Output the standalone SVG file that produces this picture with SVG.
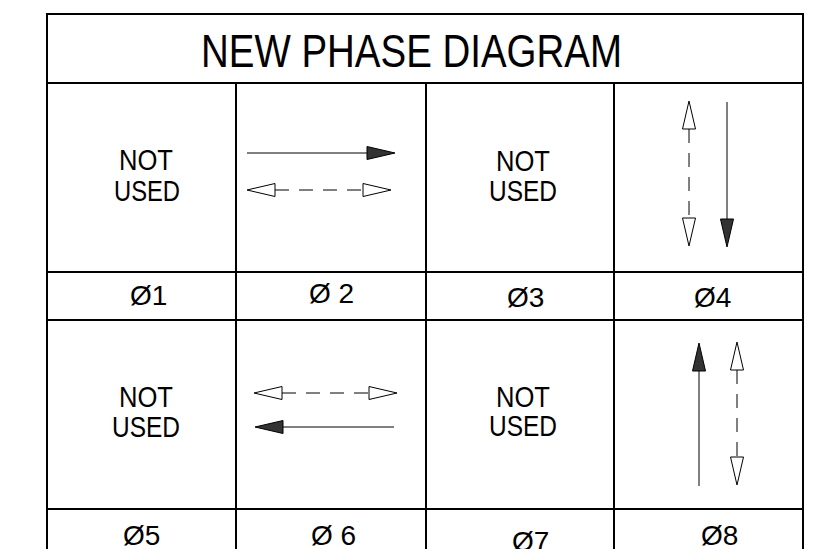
<svg xmlns="http://www.w3.org/2000/svg" width="829" height="549" viewBox="0 0 829 549">
<style>
.grid{stroke:#000;stroke-width:2;fill:none}
.t{font-family:"Liberation Sans",Arial,sans-serif;fill:#000}
.title{font-size:47px}
.nu{font-size:30px;text-anchor:middle}
.ph{font-size:28px}
.sol{stroke:#000;stroke-width:1;fill:none;marker-end:url(#hf)}
.dsh{stroke:#000;stroke-width:1;fill:none;stroke-dasharray:14 10;marker-start:url(#ho);marker-end:url(#ho)}
</style>
<defs>
<marker id="hf" markerUnits="userSpaceOnUse" viewBox="-1 -8 31 16" markerWidth="31" markerHeight="16" refX="0" refY="0" orient="auto-start-reverse" overflow="visible">
<path d="M0,-6.5 L28,0 L0,6.5 Z" fill="#333" stroke="#000" stroke-width="1"/>
</marker>
<marker id="ho" markerUnits="userSpaceOnUse" viewBox="-1 -8 31 16" markerWidth="31" markerHeight="16" refX="0" refY="0" orient="auto-start-reverse" overflow="visible">
<path d="M0,-6.5 L28,0 L0,6.5 Z" fill="#fff" stroke="#000" stroke-width="1"/>
</marker>
</defs>
<rect width="829" height="549" fill="#fff"/>
<g id="table" class="grid">
<path d="M47,549 V14 H803 V549"/>
<path d="M47,83 H803 M47,272 H803 M47,320 H803 M47,509 H803"/>
<path d="M236,83 V549 M426,83 V549 M614,83 V549"/>
</g>
<g id="title"><text class="t title" x="201" y="67" textLength="421" lengthAdjust="spacingAndGlyphs">NEW PHASE DIAGRAM</text></g>
<g id="phase1"><text class="t nu" x="146" y="170" textLength="54" lengthAdjust="spacingAndGlyphs">NOT</text><text class="t nu" x="147" y="201" textLength="66" lengthAdjust="spacingAndGlyphs">USED</text><text class="t ph" x="130" y="305">Ø1</text></g>
<g id="phase2"><text class="t ph" x="309" y="303">Ø 2</text></g>
<g id="phase3"><text class="t nu" x="523" y="171" textLength="54" lengthAdjust="spacingAndGlyphs">NOT</text><text class="t nu" x="523" y="201" textLength="68" lengthAdjust="spacingAndGlyphs">USED</text><text class="t ph" x="507" y="307">Ø3</text></g>
<g id="phase4"><text class="t ph" x="694" y="307">Ø4</text></g>
<g id="phase5"><text class="t nu" x="146" y="407" textLength="54" lengthAdjust="spacingAndGlyphs">NOT</text><text class="t nu" x="146" y="437" textLength="68" lengthAdjust="spacingAndGlyphs">USED</text><text class="t ph" x="123" y="545">Ø5</text></g>
<g id="phase6"><text class="t ph" x="311" y="545">Ø 6</text></g>
<g id="phase7"><text class="t nu" x="523" y="407" textLength="54" lengthAdjust="spacingAndGlyphs">NOT</text><text class="t nu" x="523" y="436" textLength="68" lengthAdjust="spacingAndGlyphs">USED</text><text class="t ph" x="512" y="551">Ø7</text></g>
<g id="phase8"><text class="t ph" x="701" y="545">Ø8</text></g>
<g id="connectors">
<path class="sol" d="M247,153 H367"/>
<path class="dsh" d="M275,190 H363"/>
<path class="dsh" d="M282,393 H369"/>
<path class="sol" d="M394,427 H283"/>
<path class="dsh" d="M689,129 V218"/>
<path class="sol" d="M727,102 V219"/>
<path class="sol" d="M699,486 V371"/>
<path class="dsh" d="M737,370 V457"/>
</g>
</svg>
